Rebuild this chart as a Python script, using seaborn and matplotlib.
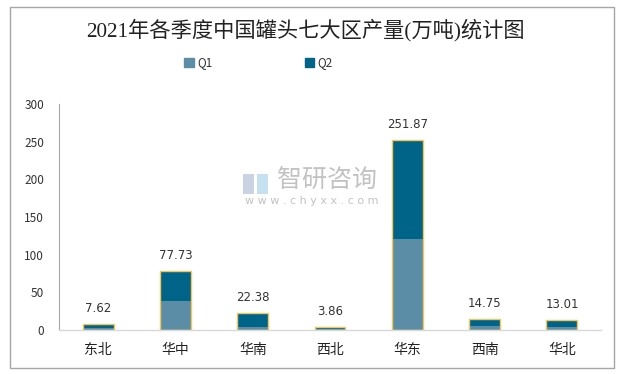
import matplotlib
matplotlib.use('Agg')
import matplotlib.pyplot as plt
import matplotlib.patches as mpatches
import seaborn as sns
import pandas as pd

# 数据 (万吨)
regions = ['东北', '华中', '华南', '西北', '华东', '西南', '华北']
totals = [7.62, 77.73, 22.38, 3.86, 251.87, 14.75, 13.01]
q1 = [3.2, 38.5, 4.5, 1.5, 121.2, 5.3, 4.0]
y_ticks = [0, 50, 100, 150, 200, 250, 300]

c_q1 = '#5b8ea6'
c_q2 = '#006388'
c_edge = '#f2c65a'

df = pd.DataFrame({'地区': regions, '合计': totals, 'Q1': q1})

sns.set_style('white')
plt.rcParams['font.family'] = ['Noto Sans CJK SC', 'DejaVu Sans']

fig = plt.figure(figsize=(6.23, 3.74), dpi=100)
ax = fig.add_axes([0.0955, 0.1176, 0.8685, 0.6044])

# 合计 (Q2 部分颜色)
sns.barplot(x='地区', y='合计', data=df, color=c_q2, width=0.4, saturation=1,
            linewidth=0, ax=ax)
# Q1 叠在底部
sns.barplot(x='地区', y='Q1', data=df, color=c_q1, width=0.4, saturation=1,
            linewidth=0, ax=ax)
# 金色描边
sns.barplot(x='地区', y='合计', data=df, width=0.4, fill=False, ax=ax)
for p in ax.patches[2 * len(regions):]:
    p.set_edgecolor(c_edge)
    p.set_linewidth(1.0)
    p.set_facecolor('none')

for i, v in enumerate(totals):
    ax.text(i, v + 12, f'{v:.2f}', ha='center', va='bottom', fontsize=8.5,
            color='#333333', family=['DejaVu Sans'])

ax.set_xlim(-0.5, 6.5)
ax.set_ylim(0, 300)
ax.set_yticks(y_ticks)
ax.set_yticklabels([str(t) for t in y_ticks], fontsize=8.5, color='#333333')
ax.tick_params(axis='x', labelsize=10, colors='#222222', length=0, pad=9)
ax.tick_params(axis='y', length=0, pad=11)
ax.set_xlabel('')
ax.set_ylabel('')
sns.despine(ax=ax, top=True, right=True)
ax.spines['left'].set_color('#a6a6a6')
ax.spines['left'].set_linewidth(0.8)
ax.spines['bottom'].set_color('#d9d9d9')
ax.spines['bottom'].set_linewidth(1.0)

# 标题
fig.text(0.491, 0.92, '2021年各季度中国罐头七大区产量(万吨)统计图', ha='center', va='center',
         fontsize=15.3, fontweight='medium', color='#222222',
         family=['Liberation Serif', 'Noto Sans CJK SC'])

# 图例
handles = [mpatches.Patch(color=c_q1, label='Q1'), mpatches.Patch(color=c_q2, label='Q2')]
fig.legend(handles=handles, loc='center', bbox_to_anchor=(0.415, 0.832), ncol=2,
           frameon=False, fontsize=8.5, handlelength=0.8, handleheight=0.8,
           handletextpad=0.3, columnspacing=7.8, labelcolor='#333333')

# 水印
fig.text(0.525, 0.52, '智研咨询', ha='center', va='center', fontsize=18,
         color='#b8b8b8', alpha=0.85)
fig.text(0.50, 0.462, 'w w w . c h y x x . c o m', ha='center', va='center',
         fontsize=8, color='#b8b8b8', alpha=0.85, family=['DejaVu Sans'])
fig.patches.append(mpatches.Rectangle((0.390, 0.48), 0.018, 0.055, transform=fig.transFigure,
                                      facecolor='#c9d3e3', edgecolor='none'))
fig.patches.append(mpatches.Rectangle((0.412, 0.48), 0.018, 0.055, transform=fig.transFigure,
                                      facecolor='#c6e0f2', edgecolor='none'))

# 外框
fig.patches.append(mpatches.Rectangle((0.016, 0.016), 0.970, 0.966, transform=fig.transFigure,
                                      fill=False, edgecolor='#a6a6a6', linewidth=1.0))

fig.savefig('out.png', dpi=100)
